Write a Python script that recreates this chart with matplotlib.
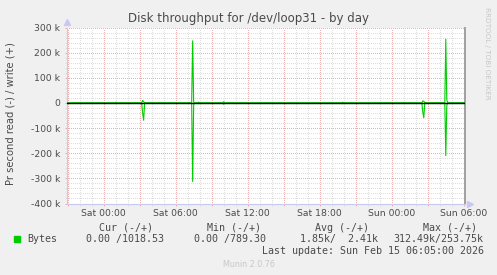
import matplotlib
matplotlib.use('Agg')
import matplotlib.pyplot as plt
import matplotlib.dates as mdates
import matplotlib.ticker as ticker
from matplotlib.patches import Rectangle
import pandas as pd

# サンプル時刻 (5分間隔, ゼロ以外はスパイクのみ)
sample_times = [
    "2026-02-13 20:57",
    "2026-02-14 00:57", "2026-02-14 01:02", "2026-02-14 01:07",
    "2026-02-14 03:10", "2026-02-14 03:15", "2026-02-14 03:20", "2026-02-14 03:25",
    "2026-02-14 07:05", "2026-02-14 07:10", "2026-02-14 07:15",
    "2026-02-14 07:20", "2026-02-14 07:25", "2026-02-14 07:30", "2026-02-14 07:35",
    "2026-02-14 07:50", "2026-02-14 07:55", "2026-02-14 08:00",
    "2026-02-14 09:55", "2026-02-14 10:00", "2026-02-14 10:05",
    "2026-02-14 10:37", "2026-02-14 10:42", "2026-02-14 10:47",
    "2026-02-14 19:50", "2026-02-14 19:55", "2026-02-14 20:00",
    "2026-02-15 00:55", "2026-02-15 01:00", "2026-02-15 01:05",
    "2026-02-15 02:30", "2026-02-15 02:35", "2026-02-15 02:40", "2026-02-15 02:45",
    "2026-02-15 04:25", "2026-02-15 04:30", "2026-02-15 04:35", "2026-02-15 04:40",
    "2026-02-15 06:05",
]
write_bytes = [0,
               0, 3000, 0,
               0, 10000, 5000, 0,
               0, 2000, 0,
               0, 247000, 3000, 0,
               0, 3000, 0,
               0, 5000, 0,
               0, 1000, 0,
               0, 3000, 0,
               0, 2000, 0,
               0, 8000, 7000, 0,
               0, 253750, 12000, 0,
               0]
read_bytes = [0,
              0, 3000, 0,
              0, 40000, 69000, 0,
              0, 1000, 0,
              0, 312490, 8000, 0,
              0, 3000, 0,
              0, 5000, 0,
              0, 0, 0,
              0, 3000, 0,
              0, 2000, 0,
              0, 35000, 59000, 0,
              0, 210000, 10000, 0,
              0]

x_start = "2026-02-13 20:57"
x_end = "2026-02-15 06:06"
y_ticks = [-400000, -300000, -200000, -100000, 0, 100000, 200000, 300000]

legend_head = ["Cur (-/+)", "Min (-/+)", "Avg (-/+)", "Max (-/+)"]
legend_vals = ["0.00 /1018.53", "0.00 /789.30", "1.85k/  2.41k", "312.49k/253.75k"]

W, H = 497, 275
GREEN = '#00CC00'
TXT = '#4a4a4a'
MGRID = '#ECB0B0'
GRID = '#DEDEDE'
AXIS = '#C8C8F0'

fig = plt.figure(figsize=(W / 100, H / 100), dpi=100, facecolor='#F0F0F0')
ax = fig.add_axes([67 / W, 1 - 203.5 / H, 398 / W, 176 / H])
ax.set_facecolor('white')

t = pd.to_datetime(sample_times)
ax.plot(t, write_bytes, color=GREEN, lw=0.8, zorder=4)
ax.plot(t, [-v for v in read_bytes], color=GREEN, lw=0.8, zorder=4)
ax.axhline(0, color='black', lw=1.0, zorder=5)

# 軸範囲
ax.set_xlim(pd.Timestamp(x_start), pd.Timestamp(x_end))
ax.set_ylim(y_ticks[0], y_ticks[-1])

# Y軸
ax.yaxis.set_major_locator(ticker.FixedLocator(y_ticks))
ax.yaxis.set_minor_locator(ticker.MultipleLocator(20000))
ax.yaxis.set_major_formatter(ticker.FuncFormatter(
    lambda v, p: '0' if v == 0 else f'{int(round(v / 1000))} k'))

# X軸 主目盛 3時間, ラベルは6時間ごと
ax.xaxis.set_major_locator(mdates.HourLocator(byhour=range(0, 24, 3)))
ax.xaxis.set_minor_locator(mdates.HourLocator())


def _fmt_x(v, p):
    d = mdates.num2date(v)
    return d.strftime('%a %H:%M') if d.hour % 6 == 0 else ''


ax.xaxis.set_major_formatter(ticker.FuncFormatter(_fmt_x))

dot = (0, (1, 2))
ax.set_axisbelow(True)
ax.grid(which='major', color=MGRID, linestyle=dot, linewidth=0.72, antialiased=False)
ax.grid(which='minor', color=GRID, linestyle=dot, linewidth=0.72, antialiased=False)
ax.tick_params(which='major', length=1.5, width=0.72, color=MGRID,
               labelsize=6.7, labelcolor=TXT)
ax.tick_params(which='minor', length=1.5, width=0.72, color=GRID)
ax.tick_params(axis='y', pad=3.6)
ax.tick_params(axis='x', pad=2.5)

ax.spines['top'].set_visible(False)
ax.spines['left'].set_color(AXIS)
ax.spines['bottom'].set_color(AXIS)
ax.spines['right'].set_color('#A0A0A0')
ax.spines['right'].set_linewidth(1.4)
for s in ('left', 'bottom'):
    ax.spines[s].set_linewidth(0.8)

# 軸の矢印
ax.plot([0], [1.03], marker='^', ms=4, color=AXIS, transform=ax.transAxes, clip_on=False)
ax.plot([1.013], [0], marker='>', ms=4, color=AXIS, transform=ax.transAxes, clip_on=False)

# テキスト
fig.text(0.5, 1 - 18.5 / H, 'Disk throughput for /dev/loop31 - by day',
         ha='center', va='center', fontsize=8.5, color=TXT)
fig.text(11 / W, 1 - 114 / H, 'Pr second read (-) / write (+)', rotation=90,
         ha='center', va='center', fontsize=7.2, color=TXT)
fig.text(487 / W, 1 - 53.5 / H, 'RRDTOOL / TOBI OETIKER', rotation=270,
         ha='center', va='center', fontsize=5.2, color='#C8C8C8')

mono = dict(family='DejaVu Sans Mono', fontsize=7.2, color=TXT, va='center', ha='left')
fig.patches.append(Rectangle((14 / W, 1 - 242 / H), 6 / W, 6 / H,
                             transform=fig.transFigure, color=GREEN))
fig.text(27 / W, 1 - 239.3 / H, 'Bytes', **mono)
for xh, xv, head, val in zip([99, 207, 315, 423], [86, 194, 300, 393], legend_head, legend_vals):
    fig.text(xh / W, 1 - 227.7 / H, head, **mono)
    fig.text(xv / W, 1 - 239.3 / H, val, **mono)
fig.text(261.7 / W, 1 - 251 / H, 'Last update: Sun Feb 15 06:05:00 2026', **mono)
fig.text(0.5, 1 - 264.5 / H, 'Munin 2.0.76', ha='center', va='center',
         fontsize=5.8, color='#C8C8C8')

fig.savefig('out.png', dpi=100, facecolor=fig.get_facecolor())
